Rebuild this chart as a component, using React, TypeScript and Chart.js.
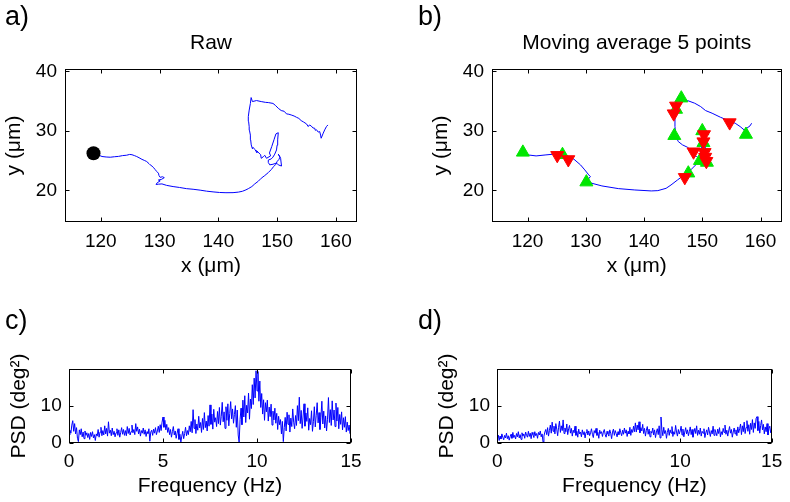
import React, { useEffect, useRef } from 'react';
import { Chart, registerables } from 'chart.js';

Chart.register(...registerables);

const FONT = "'Liberation Sans', Arial, Helvetica, sans-serif";
Chart.defaults.font.family = FONT;
Chart.defaults.color = '#000';

// ---------- Panel a: raw trajectory (µm) ----------
const rawX = [118.75, 119.6, 120.2, 120.9, 121.6, 122.3, 123.0, 123.7, 124.4, 124.9, 125.3, 125.7, 126.1, 126.5, 127.0, 127.4, 127.8, 128.2, 128.4, 128.7, 129.0, 129.25, 129.5, 129.8, 129.9, 130.1, 130.5, 130.8, 130.3, 129.8, 130.1, 129.6, 129.4, 129.8, 130.4, 131.2, 132.3, 133.4, 134.6, 135.7, 136.9, 138.0, 139.1, 140.2, 141.3, 142.5, 143.4, 144.1, 144.7, 145.1, 145.7, 146.2, 146.8, 147.3, 147.9, 148.5, 149.0, 149.4, 149.8, 150.0, 150.3, 150.5, 150.2, 150.6, 150.75, 150.2, 149.9, 149.3, 148.75, 148.5, 148.5, 149.0, 149.3, 149.6, 149.9, 150.0, 150.1, 150.2, 149.8, 149.5, 149.1, 148.7, 148.9, 148.2, 147.9, 147.7, 147.3, 147.2, 146.9, 146.5, 146.6, 146.2, 145.9, 145.8, 145.6, 145.5, 145.45, 145.3, 145.25, 145.15, 145.1, 145.25, 145.45, 145.58, 145.8, 146.5, 147.3, 148.0, 148.5, 149.3, 149.7, 150.2, 150.7, 151.2, 151.6, 152.0, 152.4, 152.9, 153.3, 153.7, 154.1, 154.5, 155.0, 155.3, 155.5, 155.8, 156.1, 156.4, 156.5, 156.7, 157.0, 157.25, 157.4, 157.5, 157.8, 158.1, 158.4, 158.65];
const rawY = [26.25, 25.95, 25.7, 25.62, 25.58, 25.66, 25.72, 25.85, 25.92, 26.05, 26.0, 25.86, 25.7, 25.5, 25.22, 25.05, 24.86, 24.5, 24.3, 24.1, 23.8, 23.5, 23.2, 22.9, 22.5, 22.2, 22.3, 22.15, 21.85, 21.75, 21.6, 21.3, 21.0, 21.05, 21.1, 20.85, 20.65, 20.5, 20.3, 20.2, 20.05, 19.88, 19.76, 19.66, 19.62, 19.63, 19.72, 19.86, 20.1, 20.3, 20.65, 21.1, 21.55, 22.05, 22.5, 23.0, 23.5, 24.0, 24.4, 24.85, 25.2, 25.6, 26.1, 25.4, 24.1, 24.3, 24.6, 24.4, 24.3, 24.7, 25.1, 25.3, 25.6, 26.1, 26.8, 27.6, 28.5, 29.7, 29.5, 28.6, 27.4, 26.3, 25.8, 25.4, 25.9, 25.7, 25.4, 26.0, 26.3, 26.7, 26.3, 26.9, 27.25, 27.0, 27.65, 28.5, 29.3, 30.1, 30.7, 31.6, 32.4, 33.5, 34.6, 35.6, 34.93, 35.1, 34.93, 34.8, 34.76, 34.62, 34.3, 33.8, 33.42, 33.3, 32.86, 32.8, 32.68, 32.5, 32.29, 32.1, 31.73, 31.5, 31.18, 30.73, 31.0, 30.84, 30.5, 30.45, 30.1, 30.2, 29.8, 29.89, 29.3, 28.77, 29.5, 30.17, 30.73, 31.0];
const startX = [118.75];
const startY = [26.25];

// ---------- Panel b: moving average (5 points) ----------
const avgX = [119.49, 120.06, 121.47, 123.16, 124.86, 126.55, 127.97, 129.1, 129.83, 130.51, 130.79, 130.23, 131.07, 132.77, 135.59, 138.42, 141.24, 142.37, 143.79, 144.63, 145.76, 146.89, 148.02, 148.87, 149.27, 149.6, 149.83, 150.0, 150.17, 150.4, 150.56, 150.73, 150.4, 149.72, 149.04, 148.3, 148.02, 147.46, 146.61, 145.88, 145.48, 145.31, 145.31, 145.48, 145.76, 146.44, 147.46, 148.7, 149.72, 150.56, 151.69, 153.11, 154.52, 155.65, 156.5, 157.18, 157.63, 158.19, 158.47];
const avgY = [26.25, 25.97, 25.8, 25.97, 26.13, 25.97, 25.24, 24.29, 23.45, 22.61, 22.33, 21.65, 21.2, 20.76, 20.31, 20.08, 19.92, 19.97, 20.36, 20.92, 21.77, 22.61, 23.45, 24.29, 25.13, 25.97, 27.09, 28.49, 29.33, 28.49, 26.81, 25.41, 24.68, 25.13, 25.69, 25.97, 26.81, 27.25, 27.65, 28.21, 29.05, 30.73, 32.41, 34.09, 35.66, 35.49, 35.1, 34.65, 34.09, 33.42, 32.97, 32.3, 31.73, 31.29, 30.73, 30.17, 30.45, 30.84, 31.29];
const upX = [119.2, 126.0, 130.1, 146.4, 145.5, 145.2, 150.0, 150.2, 147.6, 149.6, 150.8, 157.5];
const upY = [26.4, 26.0, 21.4, 35.5, 33.6, 29.2, 30.0, 28.0, 22.9, 25.0, 24.7, 29.4];
const downX = [125.1, 127.0, 145.5, 145.1, 154.7, 150.3, 150.2, 148.5, 150.4, 150.5, 150.7, 147.0];
const downY = [25.9, 25.2, 34.2, 32.9, 31.4, 29.4, 28.2, 26.5, 26.4, 25.6, 24.9, 22.2];

// ---------- Panels c, d: PSD (deg^2) sampled 0..15 Hz ----------
const psdRaw = [
  2.1, 3.4, 2.6, 4.8, 6.0, 3.1, 5.2, 2.4, 4.1, 1.2, 0.3, 3.5, 2.2, 3.8, 1.6, 2.9, 1.1, 3.2, 2.0, 2.7,
  1.4, 2.5, 0.9, 2.8, 1.7, 3.0, 1.3, 2.2, 0.6, 2.4, 1.8, 3.6, 1.5, 2.9, 4.2, 1.9, 3.3, 2.1, 4.6, 2.4,
  3.9, 1.8, 5.7, 2.6, 3.4, 1.9, 4.0, 2.2, 3.1, 1.6, 2.7, 3.8, 2.0, 3.5, 1.5, 2.8, 4.1, 2.3, 3.6, 2.0,
  3.3, 1.9, 4.4, 2.5, 3.9, 2.1, 3.0, 4.8, 2.7, 3.6, 2.2, 5.2, 3.1, 4.3, 2.4, 3.7, 1.8, 3.3, 2.6, 4.0,
  2.3, 3.5, 1.7, 3.0, 2.5, 3.8, 0.4, 2.9, 3.4, 2.0, 3.7, 2.6, 4.1, 2.2, 3.2, 4.5, 2.8, 4.9, 3.3, 5.6,
  7.0, 4.2, 6.1, 3.5, 5.0, 2.8, 4.1, 2.2, 3.6, 1.5, 3.0, 4.4, 2.1, 3.2, 1.2, 2.6, 3.8, 0.9, 2.3, 0.2,
  1.8, 3.1, 1.1, 2.5, 4.2, 1.9, 3.3, 2.2, 4.6, 3.0, 5.8, 2.7, 9.0, 3.9, 6.3, 2.5, 5.1, 3.4, 7.2, 4.0,
  5.5, 2.8, 6.6, 3.6, 8.2, 4.1, 5.9, 3.2, 7.4, 4.5, 10.3, 5.0, 7.8, 3.7, 9.1, 5.6, 6.8, 4.4, 8.5, 5.2,
  9.6, 4.8, 7.2, 11.0, 5.7, 8.4, 3.9, 9.8, 6.1, 10.6, 4.6, 8.0, 11.2, 6.5, 9.2, 5.3, 7.7, 10.1, 4.2, 8.9,
  2.1, 0.1, 6.3, 9.4, 4.9, 11.6, 7.0, 12.8, 5.5, 10.2, 8.1, 13.5, 6.4, 11.9, 9.3, 15.8, 10.4, 17.6, 12.2, 19.6,
  14.1, 19.4, 11.3, 16.8, 9.6, 13.4, 7.8, 11.7, 6.1, 10.9, 8.4, 11.6, 5.9, 9.7, 7.1, 10.5, 4.8, 8.6, 6.2, 9.4,
  5.3, 8.0, 3.6, 7.2, 4.9, 6.3, 2.4, 5.8, 0.3, 4.1, 6.9, 3.2, 8.3, 5.0, 7.6, 2.9, 6.7, 4.4, 9.2, 5.6,
  3.8, 7.4, 4.7, 10.1, 6.0, 12.4, 5.2, 8.8, 3.9, 7.0, 10.6, 4.5, 8.1, 5.8, 9.5, 3.4, 6.6, 4.9, 8.7, 3.1,
  5.7, 9.8, 4.3, 7.5, 10.9, 5.4, 8.2, 3.6, 6.9, 11.3, 5.1, 8.6, 4.0, 7.3, 3.2, 6.4, 12.3, 5.5, 9.0, 4.7,
  11.4, 6.2, 8.9, 4.4, 10.8, 5.9, 9.6, 3.8, 7.7, 5.0, 8.4, 3.5, 6.8, 4.2, 7.1, 2.9, 5.6, 3.3, 4.8, 2.5,
  3.9
];
const psdAvg = [
  1.2, 2.1, 0.6, 1.8, 1.0, 2.4, 1.5, 0.8, 2.0, 1.3, 2.6, 1.1, 1.9, 0.7, 1.6, 2.3, 1.2, 2.8, 1.4, 2.0,
  1.0, 2.5, 1.6, 3.0, 1.3, 2.2, 0.9, 2.7, 1.8, 2.4, 1.2, 2.9, 2.0, 1.5, 3.1, 1.7, 2.6, 1.1, 2.8, 2.2,
  1.4, 3.0, 1.9, 2.5, 1.2, 2.8, 2.1, 3.2, 1.6, 2.4, 0.2, 1.8, 2.9, 3.6, 2.2, 4.1, 1.8, 3.3, 4.8, 2.6,
  5.6, 3.1, 4.5, 2.4, 5.2, 3.7, 1.9, 4.2, 5.9, 2.8, 4.6, 3.3, 6.2, 2.5, 4.0, 3.0, 5.1, 2.2, 3.8, 4.7,
  2.6, 3.9, 1.8, 3.4, 2.7, 4.5, 2.0, 3.1, 1.5, 3.7, 2.4, 2.9, 1.6, 3.5, 2.2, 3.0, 1.3, 2.8, 3.6, 2.1,
  3.2, 1.9, 2.7, 3.8, 2.3, 1.4, 3.3, 2.6, 3.9, 2.0, 2.8, 1.2, 3.4, 2.5, 3.0, 1.7, 2.9, 3.6, 2.2, 1.5,
  3.1, 2.4, 1.8, 3.5, 2.6, 1.1, 2.9, 3.7, 2.0, 3.3, 2.5, 1.6, 3.0, 2.2, 3.8, 2.7, 1.9, 3.4, 2.3, 4.0,
  2.6, 3.5, 1.7, 3.1, 2.4, 4.2, 2.0, 3.6, 2.8, 4.5, 3.0, 5.4, 2.9, 4.8, 3.5, 5.7, 2.7, 4.1, 3.2, 5.0,
  2.5, 3.9, 1.8, 3.4, 4.4, 2.3, 3.7, 1.6, 3.1, 2.6, 4.0, 2.1, 3.5, 1.4, 2.9, 3.8, 2.2, 4.6, 1.3, 7.0,
  3.6, 1.9, 4.2, 2.5, 3.3, 1.2, 2.8, 3.9, 2.0, 3.5, 2.6, 4.4, 1.7, 3.0, 2.3, 4.7, 2.9, 1.8, 3.6, 2.4,
  3.2, 4.5, 2.1, 3.7, 1.6, 2.9, 4.1, 2.4, 3.5, 1.9, 3.0, 4.3, 2.2, 3.6, 1.5, 2.8, 3.9, 2.5, 4.6, 2.0,
  3.4, 2.3, 4.0, 1.8, 3.1, 2.6, 3.8, 1.4, 2.7, 3.5, 2.1, 4.2, 2.9, 1.7, 3.3, 2.4, 4.5, 2.0, 3.6, 2.8,
  1.9, 3.7, 2.5, 4.1, 1.6, 3.0, 2.2, 3.9, 2.8, 4.8, 2.3, 3.4, 1.8, 3.2, 4.4, 2.6, 3.6, 1.5, 2.9, 4.0,
  2.4, 3.5, 1.9, 4.3, 2.7, 3.8, 5.1, 2.2, 4.6, 3.0, 5.6, 2.5, 4.1, 6.0, 3.1, 4.9, 2.3, 5.3, 3.6, 6.3,
  2.8, 5.4, 3.9, 6.6, 7.1, 3.3, 5.8, 2.6, 4.7, 6.2, 3.5, 5.0, 2.4, 4.3, 3.0, 5.2, 2.1, 3.8, 4.5, 2.7,
  3.4
];
const FREQ_MAX = 15;

// ---------- ticks / ranges ----------
const posXTicks = [120, 130, 140, 150, 160];
const posYTicks = [20, 30, 40];
const freqTicks = [0, 5, 10, 15];
const psdTicks = [0, 10];
const POS_X_RANGE = [113.9, 163.6];
const POS_Y_RANGE = [14.7, 40.4];
const PSD_Y_RANGE = [0, 20];

const BLUE = '#0000ff';

const toXY = (xs: number[], ys: number[]) => xs.map((x, i) => ({ x, y: ys[i] }));
const toFreq = (vals: number[]) => vals.map((v, i) => ({ x: (i * FREQ_MAX) / (vals.length - 1), y: v }));

const framePlugin = {
  id: 'frame',
  afterDraw(chart: any, _args: any, opts: any) {
    const { ctx, chartArea: a } = chart;
    const xs = chart.scales.x;
    const ys = chart.scales.y;
    const L = Math.round(a.left) + 0.5;
    const R = Math.round(a.right) - 0.5;
    const T = Math.round(a.top) + 0.5;
    const B = Math.round(a.bottom) - 0.5;
    ctx.save();
    ctx.strokeStyle = '#000';
    ctx.lineWidth = 1;
    ctx.strokeRect(L, T, R - L, B - T);
    const tl = 4;
    ctx.beginPath();
    xs.ticks.forEach((t: any) => {
      const p = Math.round(xs.getPixelForValue(t.value)) + 0.5;
      ctx.moveTo(p, B); ctx.lineTo(p, B - tl);
      ctx.moveTo(p, T); ctx.lineTo(p, T + tl);
    });
    ys.ticks.forEach((t: any) => {
      const p = Math.round(ys.getPixelForValue(t.value)) + 0.5;
      ctx.moveTo(L, p); ctx.lineTo(L + tl, p);
      ctx.moveTo(R, p); ctx.lineTo(R - tl, p);
    });
    ctx.stroke();
    ctx.fillStyle = '#000';
    ctx.font = `27px ${FONT}`;
    ctx.textAlign = 'left';
    ctx.textBaseline = 'alphabetic';
    ctx.fillText(opts.letter, opts.lx, opts.ly);
    ctx.restore();
  },
};

type Box = { padL: number; padR: number; padT: number; padB: number; yW: number; xH: number; yPad: number; xPad: number };

function axes(
  xr: number[], yr: number[], xt: number[], yt: number[], xTitle: string, yTitle: string, b: Box
) {
  return {
    x: {
      type: 'linear', min: xr[0], max: xr[1],
      grid: { display: false, drawTicks: false }, border: { display: false },
      ticks: { padding: b.xPad, font: { size: 19 }, color: '#000', maxRotation: 0, autoSkip: false },
      afterBuildTicks: (s: any) => { s.ticks = xt.map((v) => ({ value: v })); },
      afterFit: (s: any) => { s.height = b.xH; },
      title: { display: true, text: xTitle, font: { size: 21 }, color: '#000', padding: 0 },
    },
    y: {
      type: 'linear', min: yr[0], max: yr[1],
      grid: { display: false, drawTicks: false }, border: { display: false },
      ticks: { padding: b.yPad, font: { size: 19 }, color: '#000', autoSkip: false },
      afterBuildTicks: (s: any) => { s.ticks = yt.map((v) => ({ value: v })); },
      afterFit: (s: any) => { s.width = b.yW; },
      title: { display: true, text: yTitle, font: { size: 21 }, color: '#000', padding: 0 },
    },
  };
}

function baseOptions(b: Box, title: string | null, letter: string, lx: number, ly: number, scales: any) {
  return {
    responsive: false,
    animation: false,
    events: [],
    layout: { padding: { left: b.padL, right: b.padR, top: b.padT, bottom: b.padB } },
    plugins: {
      legend: { display: false },
      tooltip: { enabled: false },
      title: title
        ? { display: true, text: title, fullSize: false, font: { size: 21, weight: 'normal' }, color: '#000', padding: { top: 0, bottom: 13.4 } }
        : { display: false },
      frame: { letter, lx, ly },
    },
    scales,
  };
}

const boxA: Box = { padL: 2, padR: 433, padT: 30.4, padB: 222.7, yW: 63, xH: 57.3, yPad: 8, xPad: 8.3 };
const boxB: Box = { padL: 429, padR: 6, padT: 30.4, padB: 222.7, yW: 63, xH: 57.3, yPad: 8, xPad: 8.3 };
const boxC: Box = { padL: 6.8, padR: 439, padT: 369.3, padB: 2.7, yW: 62.2, xH: 56.6, yPad: 7.3, xPad: 7.8 };
const boxD: Box = { padL: 435.1, padR: 18.3, padT: 369.3, padB: 2.7, yW: 62.2, xH: 56.6, yPad: 7.3, xPad: 7.8 };

const configs = [
  () => ({
    type: 'scatter',
    data: {
      datasets: [
        { data: toXY(rawX, rawY), showLine: true, borderColor: BLUE, borderWidth: 1, pointRadius: 0, order: 2 },
        { data: toXY(startX, startY), pointRadius: 7, backgroundColor: '#000', borderColor: '#000', borderWidth: 0, order: 1 },
      ],
    },
    options: baseOptions(boxA, 'Raw', 'a)', 5, 24.7,
      axes(POS_X_RANGE, POS_Y_RANGE, posXTicks, posYTicks, 'x (\u03bcm)', 'y (\u03bcm)', boxA)),
  }),
  () => ({
    type: 'scatter',
    data: {
      datasets: [
        { data: toXY(avgX, avgY), showLine: true, borderColor: BLUE, borderWidth: 1, pointRadius: 0, order: 3 },
        { data: toXY(upX, upY), pointStyle: 'triangle', pointRadius: 7.5, backgroundColor: '#00e600', borderColor: '#00e600', borderWidth: 1, order: 2 },
        { data: toXY(downX, downY), pointStyle: 'triangle', rotation: 180, pointRadius: 7.5, backgroundColor: '#ff0000', borderColor: '#ff0000', borderWidth: 1, order: 1 },
      ],
    },
    options: baseOptions(boxB, 'Moving average 5 points', 'b)', 418, 24.7,
      axes(POS_X_RANGE, POS_Y_RANGE, posXTicks, posYTicks, 'x (\u03bcm)', 'y (\u03bcm)', boxB)),
  }),
  () => ({
    type: 'scatter',
    data: { datasets: [{ data: toFreq(psdRaw), showLine: true, borderColor: BLUE, borderWidth: 1, pointRadius: 0 }] },
    options: baseOptions(boxC, null, 'c)', 5, 329,
      axes([0, FREQ_MAX], PSD_Y_RANGE, freqTicks, psdTicks, 'Frequency (Hz)', 'PSD (deg\u00b2)', boxC)),
  }),
  () => ({
    type: 'scatter',
    data: { datasets: [{ data: toFreq(psdAvg), showLine: true, borderColor: BLUE, borderWidth: 1, pointRadius: 0 }] },
    options: baseOptions(boxD, null, 'd)', 418, 329,
      axes([0, FREQ_MAX], PSD_Y_RANGE, freqTicks, psdTicks, 'Frequency (Hz)', 'PSD (deg\u00b2)', boxD)),
  }),
];

function Panel({ make }: { make: () => any }) {
  const ref = useRef<HTMLCanvasElement | null>(null);
  useEffect(() => {
    const cfg = make();
    cfg.plugins = [framePlugin];
    const chart = new Chart(ref.current as HTMLCanvasElement, cfg);
    return () => chart.destroy();
  }, []);
  return (
    <canvas
      ref={ref}
      width={790}
      height={502}
      style={{ position: 'absolute', left: 0, top: 0, width: 790, height: 502 }}
    />
  );
}

export default function App() {
  return (
    <div style={{ position: 'fixed', left: 0, top: 0, width: 790, height: 502, background: '#fff', overflow: 'hidden' }}>
      {configs.map((m, i) => (
        <Panel key={i} make={m} />
      ))}
    </div>
  );
}
